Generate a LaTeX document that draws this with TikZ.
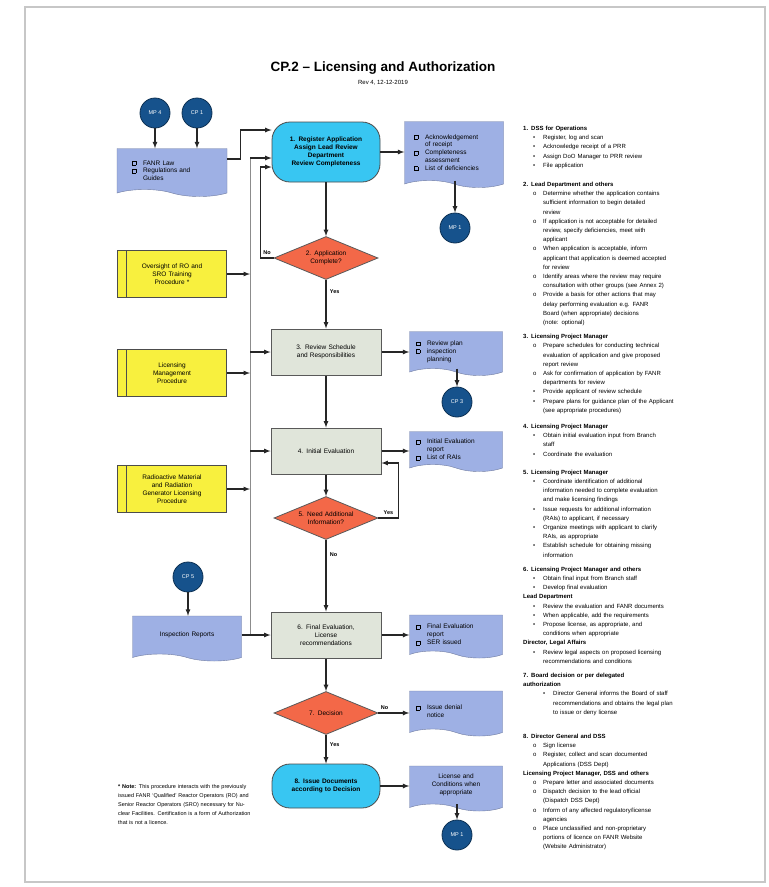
\documentclass[tikz,border=0pt]{standalone}
\usepackage{fontspec}
\setmainfont{Liberation Sans}
\usetikzlibrary{arrows,shapes.geometric,shapes.symbols,calc}
\definecolor{termcyan}{RGB}{56,198,242}
\definecolor{decred}{RGB}{243,104,72}
\definecolor{taskgray}{RGB}{224,229,218}
\definecolor{docblue}{RGB}{158,176,228}
\definecolor{procyellow}{RGB}{248,240,62}
\definecolor{connblue}{RGB}{22,82,140}
\setlength\fboxsep{0pt}
\newcommand\chkbox{\fbox{\rule{0pt}{3.5pt}\rule{3.5pt}{0pt}}}
\newcommand\docitem[1]{\par\hangindent=11pt\hangafter=1\noindent\makebox[11pt][l]{\chkbox}#1\par}
\newcommand\bul[1]{\par\hangindent=20pt\hangafter=1\noindent\hspace*{10pt}\makebox[10pt][l]{\textbullet}#1\par}
\newcommand\opt[1]{\par\hangindent=20pt\hangafter=1\noindent\hspace*{10pt}\makebox[10pt][l]{o}#1\par}
\newcommand\hd[2][0pt]{\par\vspace{#1}\noindent\textbf{#2}\par}
\tikzset{
	every node/.style={
		font=\fontsize{6.5}{7.8}\selectfont
	},
	terminal/.style={
		shape=rectangle,
		rounded corners=18pt,
		fill=termcyan,
		draw=black!70,
		line width=0.8pt,
		minimum width=108pt,
		minimum height=60pt,
		text width=92pt,
		align=center,
		font=\bfseries\fontsize{6.5}{7.8}\selectfont
	},
	task/.style={
		shape=rectangle,
		fill=taskgray,
		draw=black!65,
		line width=1pt,
		minimum width=110pt,
		minimum height=46pt,
		text width=95pt,
		align=center
	},
	decision/.style={
		shape=diamond,
		aspect=2.4,
		fill=decred,
		draw=black!65,
		line width=0.8pt,
		minimum width=104pt,
		minimum height=43pt,
		inner sep=1pt,
		text width=56pt,
		align=center
	},
	docu/.style={
		shape=tape,
		tape bend top=none,
		tape bend bottom=out and in,
		tape bend height=7pt,
		fill=docblue,
		draw=docblue!70!black,
		line width=0.4pt,
		minimum width=93pt,
		minimum height=44pt,
		text width=80pt,
		align=left,
		inner sep=3pt
	},
	procedure/.style={
		shape=rectangle,
		fill=procyellow,
		draw=black!70,
		line width=0.6pt,
		minimum width=109pt,
		minimum height=47pt,
		text width=82pt,
		align=center,
		path picture={\draw[black!70,line width=0.6pt] ([xshift=9pt]path picture bounding box.north west) -- ([xshift=9pt]path picture bounding box.south west);}
	},
	connector/.style={
		shape=circle,
		fill=connblue,
		draw=connblue!60!black,
		line width=0.8pt,
		minimum size=30pt,
		inner sep=0pt,
		text=white,
		font=\fontsize{5.5}{6}\selectfont
	},
	answer/.style={font=\bfseries\fontsize{5.5}{6}\selectfont},
	myarrow/.style={-latex, line width=1.2pt, draw=black!85},
	bus/.style={draw=black!45, line width=0.8pt},
}
\begin{document}
\begin{tikzpicture}[x=1pt,y=-1pt]
	\useasboundingbox (0,0) rectangle (769,887);
	\draw[draw=black!22, line width=2pt, fill=white] (25,7) rectangle (765,882);
	
	\node[font=\bfseries\fontsize{13.5}{15}\selectfont] (title) at (383,68) {CP.2 – Licensing and Authorization};
	\node[font=\fontsize{6}{7}\selectfont] (rev) at (383,83) {Rev 4, 12-12-2019};
	
	% main flow
	\node[terminal] (register) at (326,152) {1. Register Application\\Assign Lead Review\\Department\\Review Completeness};
	\node[decision] (complete) at (326,258) {2. Application\\Complete?};
	\node[task] (review) at (326,352) {3. Review Schedule\\and Responsibilities};
	\node[task] (initial) at (326,451) {4. Initial Evaluation};
	\node[decision] (needinfo) at (326,518) {5. Need Additional\\Information?};
	\node[task] (final) at (326,635) {6. Final Evaluation,\\License\\recommendations};
	\node[decision] (decide) at (326,713) {7. Decision};
	\node[terminal, minimum height=44pt] (issue) at (326,786) {8. Issue Documents\\according to Decision};
	
	% inputs
	\node[connector] (mpfour) at (155,113) {MP 4};
	\node[connector] (cpone) at (197,113) {CP 1};
	\node[docu, minimum width=110pt, minimum height=48pt] (law) at (172,169) {\docitem{FANR Law}\docitem{Regulations and\newline Guides}};
	\node[procedure] (oversight) at (172,274) {Oversight of RO and\\SRO Training\\Procedure *};
	\node[procedure] (licmgmt) at (172,373) {Licensing\\Management\\Procedure};
	\node[procedure] (radmat) at (172,489) {Radioactive Material\\and Radiation\\Generator Licensing\\Procedure};
	\node[connector] (cpfive) at (188,577) {CP 5};
	\node[docu, minimum width=109pt, minimum height=45pt, align=center] (insp) at (187,635) {Inspection Reports};
	
	% outputs
	\node[docu, minimum width=99pt, minimum height=66pt] (ack) at (454,151) {\docitem{Acknowledgement\newline of receipt}\docitem{Completeness\newline assessment}\docitem{List of deficiencies}};
	\node[connector] (mpone) at (455,228) {MP 1};
	\node[docu] (rplan) at (456,350) {\docitem{Review plan}\docitem{inspection\newline planning}};
	\node[connector] (cpthree) at (457,402) {CP 3};
	\node[docu, minimum height=40pt] (ieval) at (456,448) {\docitem{Initial Evaluation\newline report}\docitem{List of RAIs}};
	\node[docu, minimum height=43pt] (feval) at (456,633) {\docitem{Final Evaluation\newline report}\docitem{SER issued}};
	\node[docu, minimum height=45pt] (denial) at (456,710) {\docitem{Issue denial\newline notice}};
	\node[docu, minimum height=45pt, align=center] (licdoc) at (456,785) {License and\\Conditions when\\appropriate};
	\node[connector] (mptwo) at (457,835) {MP 1};
	
	\coordinate (bustop) at (250,158);
	\coordinate (busend) at (250,635);
	\draw[bus] (bustop) -- (busend);
	
	\draw[myarrow] (register) -- (complete);
	\draw[myarrow] (complete) -- node[answer, right, pos=0.25] {Yes} (review);
	\draw[myarrow] (review) -- (initial);
	\draw[myarrow] (initial) -- (needinfo);
	\draw[myarrow] (needinfo) -- node[answer, right, pos=0.2] {No} (final);
	\draw[myarrow] (final) -- (decide);
	\draw[myarrow] (decide) -- node[answer, right, pos=0.35] {Yes} (issue);
	
	\draw[myarrow] (complete.west) -- node[answer, above] {No} ++(-13,0) |- ([yshift=-15pt]register.west);
	\draw[myarrow] (needinfo.east) -- node[answer, above] {Yes} ++(20,0) |- ([yshift=-12pt]initial.east);
	\draw[myarrow] (decide.east) -- node[answer, above, pos=0.2] {No} (decide.east -| denial.west);
	
	\draw[myarrow] ([yshift=10pt]law.east) -- ++(13,0) |- ([yshift=22pt]register.west);
	\draw[myarrow] (bustop) -- (bustop -| register.west);
	\foreach \p in {oversight,licmgmt,radmat}
		\draw[myarrow] (\p.east) -- (\p.east -| bustop);
	\foreach \b in {review,initial}
		\draw[myarrow] (\b.west -| bustop) -- (\b.west);
	\draw[myarrow] (insp.east) -- (final.west);
	
	\draw[myarrow] (mpfour) -- (mpfour |- law.north);
	\draw[myarrow] (cpone) -- (cpone |- law.north);
	\draw[myarrow] (cpfive) -- (cpfive |- insp.north);
	
	\draw[myarrow] (register.east) -- (register.east -| ack.west);
	\draw[myarrow] (review.east) -- (review.east -| rplan.west);
	\draw[myarrow] (initial.east) -- (initial.east -| ieval.west);
	\draw[myarrow] (final.east) -- (final.east -| feval.west);
	\draw[myarrow] (issue.east) -- (issue.east -| licdoc.west);
	\draw[myarrow] (mpone |- ack.south) -- (mpone);
	\draw[myarrow] (cpthree |- rplan.south) -- (cpthree);
	\draw[myarrow] (mptwo |- licdoc.south) -- (mptwo);
	
	\node[anchor=north west, text width=135pt, align=left, inner sep=0pt, font=\fontsize{5.5}{9}\selectfont] (note) at (118,784) {\textbf{* Note:} This procedure interacts with the previously issued FANR `Qualified' Reactor Operators (RO) and Senior Reactor Operators (SRO) necessary for Nuclear Facilities. Certification is a form of Authorization that is not a licence.};
	
	\node[anchor=north west, text width=200pt, align=left, inner sep=0pt, font=\fontsize{6}{9.2}\selectfont] (steps) at (523,121) {%
		\hd{1. DSS for Operations}
		\bul{Register, log and scan}
		\bul{Acknowledge receipt of a PRR}
		\bul{Assign DoO Manager to PRR review}
		\bul{File application}
		\hd[10pt]{2. Lead Department and others}
		\opt{Determine whether the application contains\newline sufficient information to begin detailed\newline review}
		\opt{If application is not acceptable for detailed\newline review, specify deficiencies, meet with\newline applicant}
		\opt{When application is acceptable, inform\newline applicant that application is deemed accepted\newline for review}
		\opt{Identify areas where the review may require\newline consultation with other groups (see Annex 2)}
		\opt{Provide a basis for other actions that may\newline delay performing evaluation e.g. FANR\newline Board (when appropriate) decisions\newline (note: optional)}
		\hd[5pt]{3. Licensing Project Manager}
		\opt{Prepare schedules for conducting technical\newline evaluation of application and give proposed\newline report review}
		\opt{Ask for confirmation of application by FANR\newline departments for review}
		\bul{Provide applicant of review schedule}
		\bul{Prepare plans for guidance plan of the Applicant\newline (see appropriate procedures)}
		\hd[7pt]{4. Licensing Project Manager}
		\bul{Obtain initial evaluation input from Branch\newline staff}
		\bul{Coordinate the evaluation}
		\hd[9pt]{5. Licensing Project Manager}
		\bul{Coordinate identification of additional\newline information needed to complete evaluation\newline and make licensing findings}
		\bul{Issue requests for additional information\newline (RAIs) to applicant, if necessary}
		\bul{Organize meetings with applicant to clarify\newline RAIs, as appropriate}
		\bul{Establish schedule for obtaining missing\newline information}
		\hd[5pt]{6. Licensing Project Manager and others}
		\bul{Obtain final input from Branch staff}
		\bul{Develop final evaluation}
		\hd{Lead Department}
		\bul{Review the evaluation and FANR documents}
		\bul{When applicable, add the requirements}
		\bul{Propose license, as appropriate, and\newline conditions when appropriate}
		\hd{Director, Legal Affairs}
		\bul{Review legal aspects on proposed licensing\newline recommendations and conditions}
		\hd[5pt]{7. Board decision or per delegated\newline authorization}
		\par\hangindent=30pt\hangafter=1\noindent\hspace*{20pt}\makebox[10pt][l]{\textbullet}Director General informs the Board of staff\newline recommendations and obtains the legal plan\newline to issue or deny license\par
		\hd[15pt]{8. Director General and DSS}
		\opt{Sign license}
		\opt{Register, collect and scan documented\newline Applications (DSS Dept)}
		\hd{Licensing Project Manager, DSS and others}
		\opt{Prepare letter and associated documents}
		\opt{Dispatch decision to the lead official\newline (Dispatch DSS Dept)}
		\opt{Inform of any affected regulatory/license\newline agencies}
		\opt{Place unclassified and non-proprietary\newline portions of licence on FANR Website\newline (Website Administrator)}%
	};
\end{tikzpicture}
\end{document}
